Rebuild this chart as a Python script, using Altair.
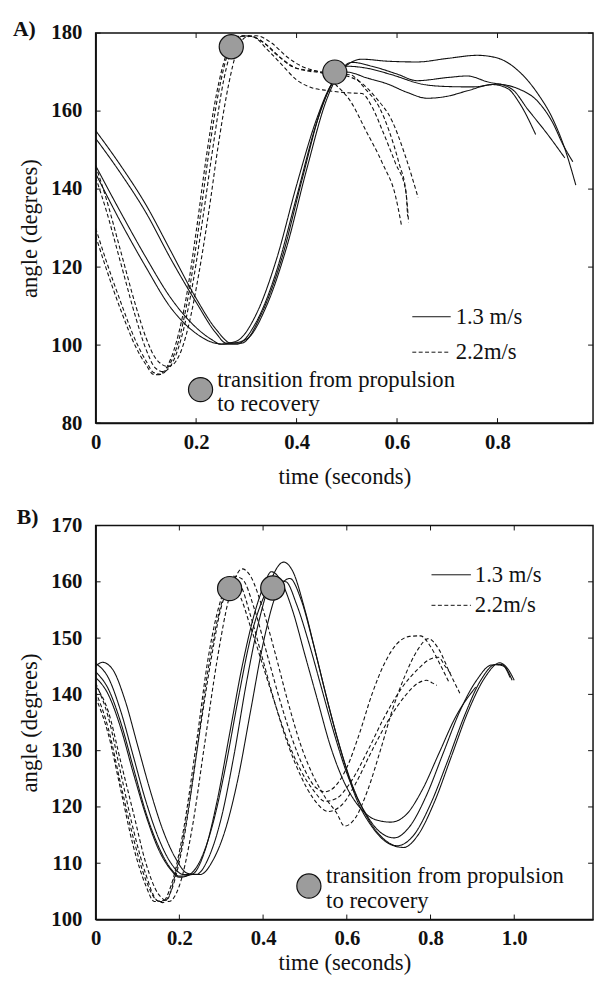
import altair as alt
import pandas as pd

# ---------------- Panel A: (time s, angle deg) ----------------
a_solid_1 = [(0, 155), (0.05, 146), (0.1, 136), (0.15, 124), (0.2, 112), (0.24, 104), (0.27, 100.5),
             (0.3, 101.5), (0.34, 110), (0.38, 125), (0.42, 145), (0.46, 163), (0.49, 170.5), (0.53, 173.3),
             (0.58, 172.8), (0.64, 172.6), (0.7, 173.5), (0.76, 174.3), (0.8, 173.6), (0.84, 170.5),
             (0.88, 164.5), (0.91, 158), (0.935, 150), (0.956, 141)]
a_solid_2 = [(0, 153), (0.05, 144), (0.1, 134), (0.15, 122), (0.2, 111), (0.24, 103), (0.26, 100.5),
             (0.29, 100.5), (0.33, 108), (0.37, 122), (0.41, 142), (0.45, 161), (0.48, 169), (0.51, 172.5),
             (0.55, 171.5), (0.6, 169.5), (0.64, 167.8), (0.7, 168.6), (0.74, 169), (0.78, 167.5),
             (0.84, 165.8), (0.88, 162.5), (0.91, 157), (0.93, 151.5), (0.95, 147)]
a_solid_3 = [(0, 146), (0.05, 134), (0.1, 122.5), (0.15, 112), (0.2, 104.5), (0.23, 101.5), (0.25, 100.2),
             (0.28, 100.2), (0.32, 106), (0.36, 119), (0.4, 138), (0.44, 157), (0.47, 167), (0.5, 171.5),
             (0.54, 171), (0.59, 169.3), (0.65, 166.9), (0.7, 166.3), (0.75, 166.2), (0.8, 166.9),
             (0.83, 165.5), (0.86, 160.5), (0.9, 154), (0.934, 148)]
a_solid_4 = [(0, 144), (0.05, 131.5), (0.1, 120), (0.15, 109.5), (0.2, 103), (0.23, 100.8), (0.25, 100.3),
             (0.28, 101), (0.32, 108), (0.36, 122), (0.4, 141), (0.44, 158), (0.47, 167), (0.5, 170),
             (0.54, 168.5), (0.58, 167), (0.62, 164.8), (0.66, 163.3), (0.7, 163.8), (0.74, 165.2),
             (0.79, 166.8), (0.82, 165.8), (0.845, 161.8), (0.876, 154)]
a_dash_1 = [(0, 146), (0.02, 138), (0.05, 124), (0.08, 110), (0.1, 102), (0.12, 96.5), (0.145, 94.5),
            (0.165, 97), (0.185, 105), (0.205, 118), (0.225, 134), (0.245, 152), (0.265, 167), (0.28, 175),
            (0.3, 179), (0.32, 179.3), (0.35, 177.5), (0.38, 174), (0.41, 171.5), (0.45, 170),
            (0.5, 169), (0.525, 167.6), (0.558, 163.4), (0.59, 157.5), (0.617, 148.3), (0.642, 137.8)]
a_dash_2 = [(0, 143), (0.02, 135), (0.05, 121), (0.08, 107), (0.1, 99), (0.12, 94), (0.135, 93.2),
            (0.155, 96), (0.175, 104), (0.195, 117), (0.215, 134), (0.235, 152), (0.255, 168),
            (0.275, 177), (0.295, 179.3), (0.315, 179), (0.34, 176), (0.37, 172), (0.4, 168),
            (0.43, 166), (0.46, 165.3), (0.5, 164.7), (0.53, 164.5), (0.551, 160.9), (0.571, 155),
            (0.597, 146.6), (0.617, 139.8), (0.623, 131.5)]
a_dash_3 = [(0, 130), (0.02, 122), (0.05, 111), (0.08, 101), (0.1, 96), (0.115, 93), (0.13, 92.5),
            (0.145, 94.5), (0.165, 101), (0.185, 113), (0.205, 130), (0.225, 149), (0.245, 165),
            (0.265, 175.5), (0.285, 179.2), (0.305, 179.3), (0.34, 177), (0.37, 173.5), (0.4, 171),
            (0.44, 170.2), (0.47, 169.5), (0.506, 169.3), (0.538, 165.5), (0.565, 160.9), (0.584, 155),
            (0.604, 146.6), (0.618, 139), (0.621, 133)]
a_dash_4 = [(0, 128), (0.02, 120), (0.05, 109), (0.08, 99.5), (0.1, 95), (0.115, 92.5), (0.125, 92.4),
            (0.14, 94), (0.16, 100.5), (0.18, 112), (0.2, 129), (0.22, 148), (0.24, 164),
            (0.26, 174.5), (0.28, 178.8), (0.3, 179.3), (0.33, 178), (0.36, 174.5), (0.39, 171.5),
            (0.42, 170.3), (0.45, 169.8), (0.48, 166.5), (0.507, 162.6), (0.538, 155), (0.571, 146.6),
            (0.597, 138.2), (0.609, 130.6)]
a_trans_t = [0.27, 0.476]
a_trans_angle = [176.5, 170]
a_xticks = [0, 0.2, 0.4, 0.6, 0.8]
a_yticks = [80, 100, 120, 140, 160, 180]

# ---------------- Panel B ----------------
b_solid_1 = [(0, 145.5), (0.03, 143), (0.06, 137), (0.09, 129), (0.12, 121), (0.15, 114.5), (0.18, 110),
             (0.21, 108), (0.24, 108), (0.27, 111), (0.3, 118), (0.33, 129), (0.36, 142), (0.39, 153),
             (0.42, 160.5), (0.449, 163.5), (0.47, 162), (0.5, 155), (0.53, 146), (0.56, 137),
             (0.59, 129), (0.62, 122), (0.66, 116.5), (0.7, 113.5), (0.736, 112.8), (0.77, 115),
             (0.81, 121), (0.85, 129), (0.89, 137), (0.93, 143), (0.965, 145.6), (0.985, 144.5), (1.0, 142.5)]
b_solid_2 = [(0, 145), (0.016, 145.7), (0.04, 144.5), (0.07, 139), (0.1, 131), (0.13, 123), (0.16, 116),
             (0.19, 111), (0.22, 108.2), (0.25, 108), (0.28, 110.5), (0.31, 116), (0.34, 125), (0.37, 137),
             (0.4, 149), (0.43, 157.5), (0.464, 160.6), (0.49, 157), (0.52, 149), (0.55, 140),
             (0.58, 131.5), (0.61, 124.5), (0.65, 118), (0.69, 114.2), (0.72, 113.1), (0.76, 115),
             (0.8, 120.5), (0.84, 128), (0.88, 136), (0.92, 142.5), (0.955, 145.3), (0.975, 145), (0.995, 142.5)]
b_solid_3 = [(0, 144), (0.03, 141), (0.06, 135), (0.09, 127), (0.12, 119), (0.15, 113), (0.18, 109),
             (0.2, 107.7), (0.23, 108), (0.26, 112), (0.29, 121), (0.32, 133), (0.35, 145), (0.38, 154.5),
             (0.4, 159), (0.42, 161.8), (0.44, 160.5), (0.47, 155), (0.5, 147), (0.53, 139), (0.56, 131),
             (0.59, 125), (0.63, 120), (0.67, 117.7), (0.705, 117.3), (0.74, 118.5), (0.78, 123),
             (0.82, 129.5), (0.86, 136), (0.908, 141.3)]
b_solid_4 = [(0, 143), (0.03, 140), (0.06, 134), (0.09, 126), (0.12, 118.5), (0.15, 112.5), (0.18, 108.8),
             (0.2, 107.5), (0.22, 107.8), (0.25, 110.5), (0.28, 117), (0.31, 127), (0.34, 139), (0.37, 150),
             (0.4, 157), (0.43, 160.3), (0.455, 160), (0.48, 156), (0.51, 149), (0.54, 141), (0.57, 133),
             (0.6, 126), (0.64, 119.5), (0.68, 115.5), (0.713, 114.5), (0.75, 116.5), (0.79, 122),
             (0.83, 129.5), (0.87, 137), (0.91, 142.5), (0.945, 145.2), (0.97, 145.3), (0.99, 143)]
b_dash_1 = [(0, 141.5), (0.03, 137), (0.06, 128), (0.09, 119), (0.12, 110), (0.15, 104.5), (0.175, 103.2),
            (0.2, 106), (0.23, 116), (0.26, 131), (0.29, 146), (0.32, 157.5), (0.35, 162.3), (0.37, 161),
            (0.4, 155), (0.43, 147), (0.46, 138.5), (0.49, 131), (0.52, 125.5), (0.55, 121.5),
            (0.575, 119), (0.595, 116.6), (0.62, 118), (0.65, 123), (0.68, 130), (0.71, 137.5),
            (0.74, 143.5), (0.77, 148), (0.795, 149.9), (0.82, 148), (0.845, 144), (0.87, 140.2)]
b_dash_2 = [(0, 142), (0.03, 136), (0.06, 126), (0.09, 116), (0.12, 108), (0.145, 103.5), (0.16, 103),
            (0.18, 105), (0.21, 114), (0.24, 129), (0.27, 145), (0.3, 156), (0.33, 161), (0.35, 160.5),
            (0.38, 155), (0.41, 147), (0.44, 139), (0.47, 132), (0.5, 126.5), (0.525, 123.5),
            (0.548, 122.7), (0.57, 123.5), (0.6, 127), (0.63, 133), (0.66, 140), (0.69, 145.5),
            (0.72, 149), (0.75, 150.3), (0.776, 150.4), (0.8, 148.5), (0.825, 145), (0.845, 142)]
b_dash_3 = [(0, 140.5), (0.03, 134), (0.06, 124), (0.09, 114.5), (0.12, 107), (0.15, 103.3), (0.17, 103.5),
            (0.19, 108), (0.22, 119), (0.25, 134), (0.28, 148), (0.3, 155.5), (0.32, 158.8), (0.34, 158),
            (0.37, 152), (0.4, 145), (0.43, 138), (0.46, 131.5), (0.49, 126.5), (0.52, 123),
            (0.548, 121), (0.575, 121.5), (0.61, 124.5), (0.65, 130), (0.69, 136), (0.73, 141),
            (0.77, 144.5), (0.8, 146.3), (0.819, 146.6), (0.835, 145), (0.85, 143.5)]
b_dash_4 = [(0, 139.5), (0.03, 133), (0.06, 123), (0.09, 113), (0.12, 106), (0.14, 103.2), (0.16, 103.2),
            (0.18, 106), (0.21, 116), (0.24, 131), (0.27, 147), (0.3, 157), (0.325, 160.5), (0.345, 159.5),
            (0.37, 154), (0.4, 146), (0.43, 138), (0.46, 131), (0.49, 125.5), (0.52, 121.5),
            (0.556, 119.2), (0.59, 120.5), (0.62, 124), (0.66, 130), (0.7, 135.5), (0.74, 139.8),
            (0.77, 142), (0.791, 142.5), (0.805, 142), (0.815, 141.6)]
b_trans_t = [0.32, 0.423]
b_trans_angle = [158.8, 158.9]
b_xticks = [0, 0.2, 0.4, 0.6, 0.8, 1.0]
b_yticks = [100, 110, 120, 130, 140, 150, 160, 170]

speeds = ["1.3 m/s", "2.2m/s"]
legend_title = "transition from propulsion\nto recovery"

FONT = "Liberation Serif"
INK = "#111111"


def curves_frame(solid, dashed):
    rows = []
    for i, c in enumerate(solid):
        for t, a in c:
            rows.append({"t": t, "angle": a, "curve": f"s{i}", "speed": speeds[0]})
    for i, c in enumerate(dashed):
        for t, a in c:
            rows.append({"t": t, "angle": a, "curve": f"d{i}", "speed": speeds[1]})
    return pd.DataFrame(rows)


def panel(solid, dashed, trans_t, trans_ang, xdom, ydom, xticks, yticks, W, H,
          tag, tag_xy, leg, ann, lab_pad, title_pad):
    xs = alt.Scale(domain=xdom, nice=False, zero=False)
    ys = alt.Scale(domain=ydom, nice=False, zero=False)
    X = alt.X("t:Q", scale=xs, title="time (seconds)",
              axis=alt.Axis(values=xticks, labelFlush=False, labelPadding=lab_pad,
                            titlePadding=title_pad,
                            labelExpr="datum.value == 0 ? '0' : format(datum.value, '.1f')"))
    Y = alt.Y("angle:Q", scale=ys, title="angle (degrees)",
              axis=alt.Axis(values=yticks, format="d", labelPadding=14, titlePadding=10))
    df = curves_frame(solid, dashed)
    lines = alt.Chart(df).mark_line(color=INK, strokeWidth=1.1, interpolate="monotone").encode(
        x=X, y=Y, detail="curve:N",
        strokeDash=alt.StrokeDash("speed:N", scale=alt.Scale(domain=speeds, range=[[1, 0], [4, 2.5]]),
                                  legend=None),
    )
    tdf = pd.DataFrame({"t": trans_t, "angle": trans_ang})
    circles = alt.Chart(tdf).mark_point(shape="circle", filled=True, size=600, fill="#9c9c9c",
                                        stroke=INK, strokeWidth=1.2, opacity=1).encode(x=X, y=Y)
    xt = pd.DataFrame({"t": xticks})
    yt = pd.DataFrame({"angle": yticks})
    tick_b = alt.Chart(xt).mark_rule(color=INK, strokeWidth=1).encode(
        x=X, y=alt.value(H), y2=alt.value(H - 5))
    tick_t = alt.Chart(xt).mark_rule(color=INK, strokeWidth=1).encode(
        x=X, y=alt.value(0), y2=alt.value(5))
    tick_l = alt.Chart(yt).mark_rule(color=INK, strokeWidth=1).encode(
        y=Y, x=alt.value(0), x2=alt.value(5))
    tick_r = alt.Chart(yt).mark_rule(color=INK, strokeWidth=1).encode(
        y=Y, x=alt.value(W - 5), x2=alt.value(W))
    one = alt.Data(values=[{}])
    tag_text = alt.Chart(one).mark_text(font=FONT, fontWeight="bold", fontSize=22, align="left",
                                        baseline="middle", color=INK).encode(
        x=alt.value(tag_xy[0]), y=alt.value(tag_xy[1]), text=alt.value(tag))
    lx0, lx1, ly0, ly1, ltx = leg
    leg_solid = alt.Chart(one).mark_rule(color=INK, strokeWidth=1).encode(
        x=alt.value(lx0), x2=alt.value(lx1), y=alt.value(ly0))
    leg_dash = alt.Chart(one).mark_rule(color=INK, strokeWidth=1, strokeDash=[4, 2.5]).encode(
        x=alt.value(lx0), x2=alt.value(lx1), y=alt.value(ly1))
    leg_t1 = alt.Chart(one).mark_text(font=FONT, fontSize=23, align="left", baseline="middle",
                                      color=INK).encode(
        x=alt.value(ltx), y=alt.value(ly0), text=alt.value(speeds[0]))
    leg_t2 = alt.Chart(one).mark_text(font=FONT, fontSize=23, align="left", baseline="middle",
                                      color=INK).encode(
        x=alt.value(ltx), y=alt.value(ly1), text=alt.value(speeds[1]))
    cx, cy, tx, ty = ann
    ann_c = alt.Chart(one).mark_point(shape="circle", filled=True, size=600, fill="#9c9c9c",
                                      stroke=INK, strokeWidth=1.2, opacity=1).encode(
        x=alt.value(cx), y=alt.value(cy))
    ann_t = alt.Chart(one).mark_text(font=FONT, fontSize=23, align="left", baseline="middle",
                                     lineBreak="\n", lineHeight=25, color=INK).encode(
        x=alt.value(tx), y=alt.value(ty), text=alt.value(legend_title))
    return alt.layer(lines, tick_b, tick_t, tick_l, tick_r, circles, tag_text, leg_solid, leg_dash,
                     leg_t1, leg_t2, ann_c, ann_t).properties(width=W, height=H)


W = 505
chart_a = panel([a_solid_1, a_solid_2, a_solid_3, a_solid_4], [a_dash_1, a_dash_2, a_dash_3, a_dash_4],
                a_trans_t, a_trans_angle, [0, W / 510], [80, 180], a_xticks, a_yticks, W, 396,
                "A)", (-84, -4), (321.5, 360.5, 288, 324, 365.5), (106.5, 362, 123.5, 352), 9, 13)
chart_b = panel([b_solid_1, b_solid_2, b_solid_3, b_solid_4], [b_dash_1, b_dash_2, b_dash_3, b_dash_4],
                b_trans_t, b_trans_angle, [0, W / 425], [100, 170], b_xticks, b_yticks, W, 400,
                "B)", (-80, -9), (341, 381, 50, 81, 385), (216.5, 366, 234, 356), 8, 4)

chart = alt.vconcat(chart_a, chart_b, spacing=16).properties(
    padding={"left": 4, "top": 2, "right": 0, "bottom": 0}
).configure_axis(
    labelFont=FONT, labelFontWeight="bold", labelFontSize=21, labelColor=INK,
    titleFont=FONT, titleFontWeight="normal", titleFontSize=23, titleColor=INK,
    domainColor=INK, domainWidth=1.5, ticks=False, grid=False, labelOverlap=False
).configure_view(stroke=INK, strokeWidth=1.5)

chart.save("out.html", embed_options={"renderer": "svg", "actions": False})
